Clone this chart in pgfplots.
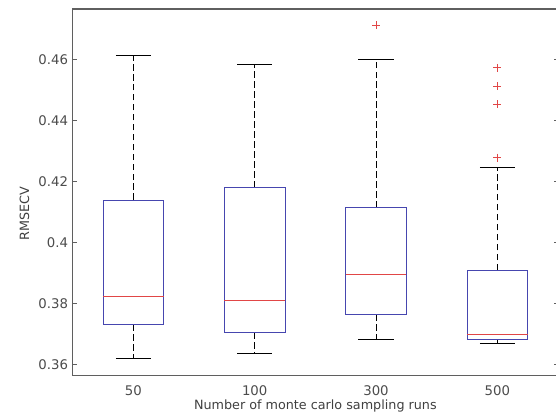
\documentclass[border=0pt]{standalone}
\usepackage{pgfplots}
\pgfplotsset{compat=1.18}
\usetikzlibrary{calc}
\usepackage{fontspec}
\setmainfont{DejaVu Sans}
\definecolor{boxblue}{RGB}{70,70,175}
\definecolor{medred}{RGB}{225,70,70}
\definecolor{axgray}{RGB}{95,95,95}
\tikzset{
  bx/.style={draw=boxblue, line width=0.75pt, line join=miter, mark=none},
  md/.style={draw=medred, line width=0.75pt, mark=none},
  wh/.style={draw=black, line width=0.7pt, dash pattern=on 5pt off 2.5pt, mark=none},
  wcap/.style={draw=black, line width=0.7pt, mark=none},
  outl/.style={only marks, mark=+, mark size=3pt, mark options={draw=medred, line width=0.6pt}},
}
\begin{document}
\begin{tikzpicture}
\begin{axis}[
  scale only axis, width=365.25pt, height=276pt,
  xmin=0.5, xmax=4.5, ymin=0.3564, ymax=0.4767,
  xtick={1,2,3,4}, xticklabels={50,100,300,500},
  ytick={0.36,0.38,0.40,0.42,0.44,0.46},
  yticklabels={0.36,0.38,0.4,0.42,0.44,0.46},
  tick align=inside, major tick length=3pt,
  xtick style={draw=none},
  axis line style={axgray, line width=0.9pt},
  ytick style={axgray, line width=0.6pt},
  ticklabel style={font=\fontsize{10}{12}\selectfont, text=black!70},
  xticklabel style={yshift=-4pt},
  xlabel={Number of monte carlo sampling runs},
  ylabel={RMSECV},
  label style={font=\fontsize{9.6}{11}\selectfont, text=black!75},
  xlabel style={yshift=4pt},
  ylabel style={at={(ticklabel cs:0.443)}},
]
% ---- 50 runs ----
\addplot[wh] coordinates {(1,0.4140) (1,0.4613)};
\addplot[wh] coordinates {(1,0.3733) (1,0.3622)};
\addplot[wcap] coordinates {(0.855,0.4613) (1.145,0.4613)};
\addplot[wcap] coordinates {(0.855,0.3622) (1.145,0.3622)};
\addplot[bx] coordinates {(0.75,0.3733) (1.25,0.3733) (1.25,0.4140) (0.75,0.4140)} -- cycle;
\addplot[md] coordinates {(0.75,0.3824) (1.25,0.3824)};
% ---- 100 runs ----
\addplot[wh] coordinates {(2,0.4181) (2,0.4586)};
\addplot[wh] coordinates {(2,0.3707) (2,0.3636)};
\addplot[wcap] coordinates {(1.855,0.4586) (2.145,0.4586)};
\addplot[wcap] coordinates {(1.855,0.3636) (2.145,0.3636)};
\addplot[bx] coordinates {(1.75,0.3707) (2.25,0.3707) (2.25,0.4181) (1.75,0.4181)} -- cycle;
\addplot[md] coordinates {(1.75,0.3810) (2.25,0.3810)};
% ---- 300 runs ----
\addplot[wh] coordinates {(3,0.4115) (3,0.4600)};
\addplot[wh] coordinates {(3,0.3766) (3,0.3684)};
\addplot[wcap] coordinates {(2.855,0.4600) (3.145,0.4600)};
\addplot[wcap] coordinates {(2.855,0.3684) (3.145,0.3684)};
\addplot[bx] coordinates {(2.75,0.3766) (3.25,0.3766) (3.25,0.4115) (2.75,0.4115)} -- cycle;
\addplot[md] coordinates {(2.75,0.3897) (3.25,0.3897)};
\addplot[outl] coordinates {(3,0.4713)};
% ---- 500 runs ----
\addplot[wh] coordinates {(4,0.3910) (4,0.4246)};
\addplot[wh] coordinates {(4,0.3683) (4,0.3669)};
\addplot[wcap] coordinates {(3.855,0.4246) (4.145,0.4246)};
\addplot[wcap] coordinates {(3.855,0.3669) (4.145,0.3669)};
\addplot[bx] coordinates {(3.75,0.3683) (4.25,0.3683) (4.25,0.3910) (3.75,0.3910)} -- cycle;
\addplot[md] coordinates {(3.75,0.3699) (4.25,0.3699)};
\addplot[outl] coordinates {(4,0.4574) (4,0.4513) (4,0.4455) (4,0.4279)};
\end{axis}
\pgfresetboundingbox
\path[use as bounding box] ($(current axis.south west)+(-54.75pt,-27.75pt)$) rectangle ($(current axis.north east)+(-1.5pt,6.75pt)$);
\end{tikzpicture}
\end{document}
